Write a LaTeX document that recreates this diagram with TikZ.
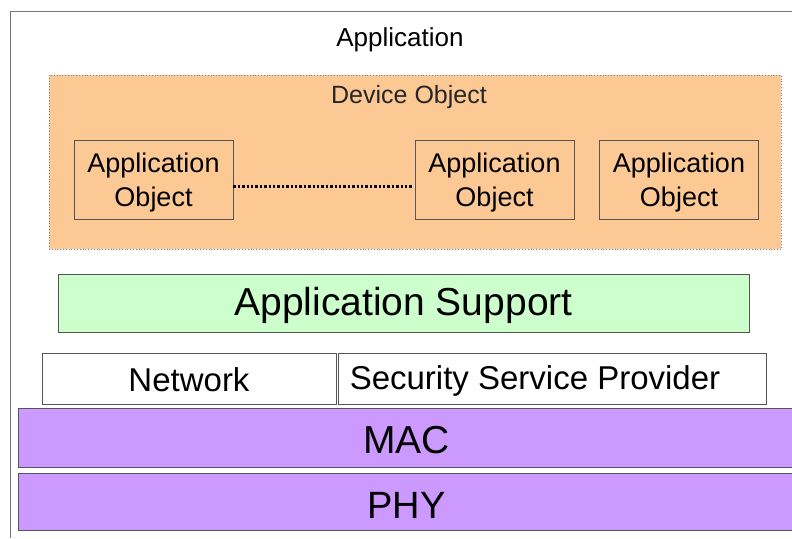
\documentclass[tikz,border=0pt]{standalone}
\usepackage{fontspec}
\setmainfont{Liberation Sans}
\definecolor{devfill}{HTML}{FCC995}
\definecolor{supfill}{HTML}{CCFFCC}
\definecolor{macfill}{HTML}{CC99FF}
\definecolor{edge}{HTML}{555555}

\begin{document}
\begin{tikzpicture}[x=1pt,y=-1pt,
    layer/.style={draw=edge, line width=0.8pt, inner sep=0pt, align=center},
    appobj/.style={layer, minimum width=159pt, minimum height=79pt, font=\fontsize{27}{34}\selectfont}]
                \useasboundingbox (0,0) rectangle (792,538);
                \draw[edge!80, line width=0.8pt] (10,538) -- (10,11) -- (792,11);

                \node[font=\fontsize{26}{30}\selectfont] (app) at (400,40) {Application};

                \node[layer, draw=gray, dotted, fill=devfill, minimum width=732pt, minimum height=174pt] (devobj) at (415,162) {};
                \node[font=\fontsize{25}{30}\selectfont, text=black!85] (devlbl) at (409,97) {Device Object};

                \foreach \name/\x in {ao1/153.5, ao2/494.5, ao3/679}
                \node[appobj] (\name) at (\x,179.5) {\rule{0pt}{25pt}Application\\Object};

                \draw[line width=3pt, dash pattern=on 2.4pt off 2pt] ([yshift=-6.5pt]ao1.east) -- ([xshift=-3pt,yshift=-6.5pt]ao2.west);

                \node[layer, fill=supfill, minimum width=691pt, minimum height=58pt, font=\fontsize{39}{44}\selectfont] (appsup) at (403.5,303) {\rule{0pt}{34pt}Application Support};
                \node[layer, minimum width=294pt, minimum height=51pt, font=\fontsize{33}{38}\selectfont] (nwk) at (189,378.5) {\rule{0pt}{26pt}Network};
                \node[layer, minimum width=428pt, minimum height=51pt, font=\fontsize{33}{38}\selectfont] (ssp) at (552,378.5) {\rule{0pt}{28pt}Security Service Provider\hspace*{34pt}};
                \node[layer, fill=macfill, minimum width=777pt, minimum height=59pt, font=\fontsize{39}{44}\selectfont] (mac) at (406.5,437.5) {\rule{0pt}{32pt}MAC};
                \node[layer, fill=macfill, minimum width=777pt, minimum height=57pt, font=\fontsize{38}{44}\selectfont] (phy) at (406.5,501.5) {\rule{0pt}{33pt}PHY};
            \end{tikzpicture}
\end{document}
